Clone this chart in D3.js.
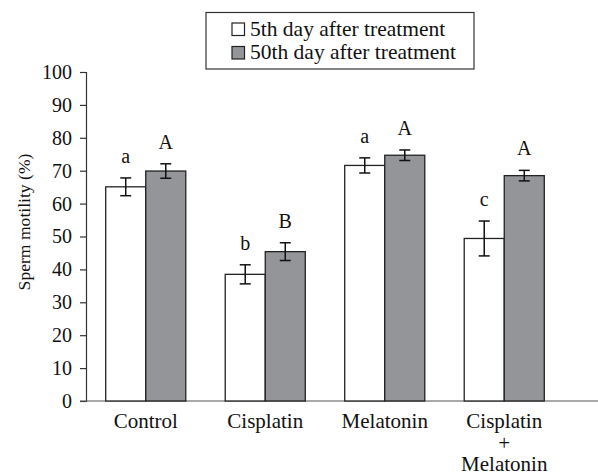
<!DOCTYPE html>
<html>
<head>
<meta charset="utf-8">
<script src="https://cdn.jsdelivr.net/npm/d3@7"></script>
<style>
  body { margin: 0; background: #fff; }
  svg text { font-family: "Liberation Serif", "Times New Roman", serif; fill: #111; }
</style>
</head>
<body>
<div id="chart"></div>
<script>
// data
const categories = ["Control", "Cisplatin", "Melatonin", "Cisplatin + Melatonin"];
const series = ["5th day after treatment", "50th day after treatment"];
const day5 = [65.1, 38.5, 71.6, 49.4];
const day5Err = [2.7, 2.9, 2.3, 5.3];
const day50 = [69.9, 45.4, 74.7, 68.5];
const day50Err = [2.2, 2.7, 1.6, 1.6];
const day5Letters = ["a", "b", "a", "c"];
const day50Letters = ["A", "B", "A", "A"];
const yTicks = [0, 10, 20, 30, 40, 50, 60, 70, 80, 90, 100];

const colors = ["#ffffff", "#939598"];
const W = 598, H = 475;

const svg = d3.select("#chart").append("svg")
    .attr("width", W).attr("height", H)
    .attr("font-family", "Liberation Serif");

const y = d3.scaleLinear().domain([0, 100]).range([401, 72]);

const x = d3.scaleBand().domain(categories)
    .range([86, 564]).paddingInner(0.33).paddingOuter(0.165);

const xs = d3.scaleBand().domain([0, 1]).range([0, x.bandwidth()]);

// bar data built from the arrays
const rows = categories.map((c, i) => ({
    cat: c,
    bars: [
        {s: 0, v: day5[i], e: day5Err[i], l: day5Letters[i]},
        {s: 1, v: day50[i], e: day50Err[i], l: day50Letters[i]}
    ]
}));

// y axis
const yAxis = d3.axisLeft(y).tickValues(yTicks).tickSize(6).tickPadding(8);
const yg = svg.append("g").attr("transform", "translate(86,0)").call(yAxis)
    .attr("font-family", "Liberation Serif");
yg.select(".domain").attr("stroke", "#333").attr("stroke-width", 1.2);
yg.selectAll(".tick line").attr("stroke", "#333").attr("stroke-width", 1.2);
yg.selectAll(".tick text").style("font-size", "20px").attr("fill", "#111");

// x axis line
svg.append("line")
    .attr("x1", 80).attr("x2", W).attr("y1", y(0)).attr("y2", y(0))
    .attr("stroke", "#555").attr("stroke-width", 1.2);

// bars
const grp = svg.append("g").selectAll("g")
    .data(rows).enter().append("g")
    .attr("transform", d => `translate(${x(d.cat)},0)`);

grp.selectAll("rect")
    .data(d => d.bars).enter().append("rect")
    .attr("x", d => xs(d.s))
    .attr("y", d => y(d.v))
    .attr("width", xs.bandwidth())
    .attr("height", d => y(0) - y(d.v))
    .attr("fill", d => colors[d.s])
    .attr("stroke", "#222").attr("stroke-width", 1.3);

// error bars
const eb = grp.selectAll("g.err")
    .data(d => d.bars).enter().append("g").attr("class", "err")
    .attr("stroke", "#111").attr("stroke-width", 1.5);

eb.append("line")
    .attr("x1", d => xs(d.s) + xs.bandwidth() / 2)
    .attr("x2", d => xs(d.s) + xs.bandwidth() / 2)
    .attr("y1", d => y(d.v + d.e))
    .attr("y2", d => y(d.v - d.e));
eb.append("line")
    .attr("x1", d => xs(d.s) + xs.bandwidth() / 2 - 5.5)
    .attr("x2", d => xs(d.s) + xs.bandwidth() / 2 + 5.5)
    .attr("y1", d => y(d.v + d.e)).attr("y2", d => y(d.v + d.e));
eb.append("line")
    .attr("x1", d => xs(d.s) + xs.bandwidth() / 2 - 5.5)
    .attr("x2", d => xs(d.s) + xs.bandwidth() / 2 + 5.5)
    .attr("y1", d => y(d.v - d.e)).attr("y2", d => y(d.v - d.e));

// significance letters
grp.selectAll("text.sig")
    .data(d => d.bars).enter().append("text").attr("class", "sig")
    .attr("x", d => xs(d.s) + xs.bandwidth() / 2)
    .attr("y", d => y(d.v + d.e) - 15)
    .attr("text-anchor", "middle")
    .style("font-size", "20px")
    .text(d => d.l);

// category labels
const labLines = {"Cisplatin + Melatonin": ["Cisplatin", "+", "Melatonin"]};
svg.append("g").selectAll("text")
    .data(categories).enter().append("text")
    .attr("text-anchor", "middle")
    .attr("x", d => x(d) + x.bandwidth() / 2)
    .attr("y", 428)
    .style("font-size", "21px")
    .each(function (d) {
        const lines = labLines[d] || [d];
        d3.select(this).selectAll("tspan")
            .data(lines).enter().append("tspan")
            .attr("x", x(d) + x.bandwidth() / 2)
            .attr("dy", (l, i) => i === 0 ? 0 : 21.5)
            .text(l => l);
    });

// y label
svg.append("text")
    .attr("transform", "translate(30,222) rotate(-90)")
    .attr("text-anchor", "middle")
    .style("font-size", "17.6px")
    .text("Sperm motility (%)");

// legend
const lg = svg.append("g");
lg.append("rect")
    .attr("x", 206).attr("y", 12.5).attr("width", 268).attr("height", 56.5)
    .attr("fill", "#fff").attr("stroke", "#333").attr("stroke-width", 1.2);
series.forEach((s, i) => {
    lg.append("rect")
        .attr("x", 232).attr("y", 23 + i * 23.5).attr("width", 12.5).attr("height", 12.5)
        .attr("fill", colors[i]).attr("stroke", "#222").attr("stroke-width", 1.2);
    lg.append("text")
        .attr("x", 250).attr("y", 35.5 + i * 23.5)
        .style("font-size", "21.5px")
        .text(s);
});
</script>
</body>
</html>
